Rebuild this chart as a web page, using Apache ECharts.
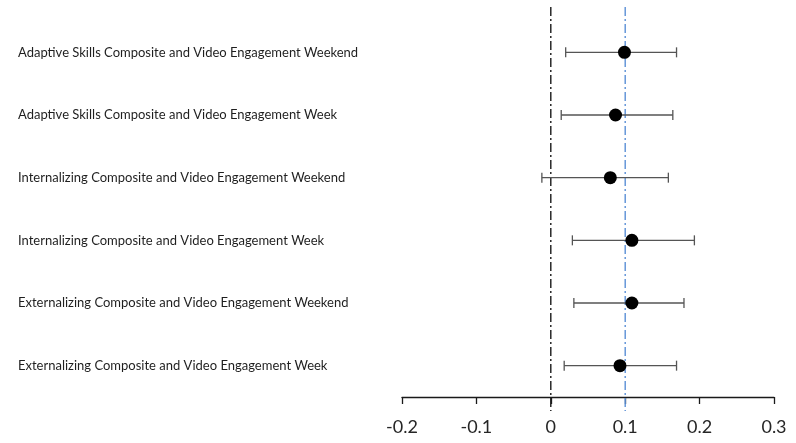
<!DOCTYPE html>
<html>
<head>
<meta charset="utf-8">
<script src="https://cdn.jsdelivr.net/npm/echarts@6/dist/echarts.min.js"></script>
<style>
  html, body { margin: 0; padding: 0; background: #fff; }
  #chart { width: 796px; height: 443px; }
</style>
</head>
<body>
<div id="chart"></div>
<script>
// Associations between composite scores and video engagement (estimate with 95% CI)
const categories = [
  'Adaptive Skills Composite and Video Engagement Weekend',
  'Adaptive Skills Composite and Video Engagement Week',
  'Internalizing Composite and Video Engagement Weekend',
  'Internalizing Composite and Video Engagement Week',
  'Externalizing Composite and Video Engagement Weekend',
  'Externalizing Composite and Video Engagement Week'
];
const estimates = [0.099, 0.087, 0.080, 0.109, 0.109, 0.093];
const lowerCI   = [0.020, 0.014, -0.012, 0.029, 0.031, 0.018];
const upperCI   = [0.169, 0.164, 0.158, 0.193, 0.179, 0.169];
const xTicks = [-0.2, -0.1, 0, 0.1, 0.2, 0.3];
const referenceLines = [0, 0.1];

const FONT = 'Lato';
const chart = echarts.init(document.getElementById('chart'), null, { renderer: 'canvas' });

const errorData = categories.map((c, i) => [i, lowerCI[i], upperCI[i]]);
const pointData = categories.map((c, i) => [estimates[i], i]);

chart.setOption({
  animation: false,
  backgroundColor: '#ffffff',
  grid: { left: 402, right: 22, top: 21, bottom: 46 },
  xAxis: {
    type: 'value',
    min: xTicks[0],
    max: xTicks[xTicks.length - 1],
    interval: 0.1,
    axisLine: { show: true, onZero: false, lineStyle: { color: '#1a1a1a', width: 1.3 } },
    axisTick: { show: true, inside: false, length: 7, lineStyle: { color: '#1a1a1a', width: 1.3 } },
    splitLine: { show: false },
    axisLabel: {
      fontFamily: FONT, fontSize: 18, color: '#262626', margin: 21,
      formatter: v => {
        const r = Math.round(v * 10) / 10;
        return r === 0 ? '0' : String(r);
      }
    }
  },
  yAxis: {
    type: 'category',
    data: categories,
    inverse: true,
    boundaryGap: true,
    axisLine: { show: false },
    axisTick: { show: false },
    splitLine: { show: false },
    axisLabel: {
      align: 'left',
      margin: 384,
      fontFamily: FONT,
      fontSize: 13,
      color: '#1f1f1f'
    }
  },
  series: [
    {
      // vertical dash-dot reference lines at 0 and 0.1
      type: 'custom',
      silent: true,
      data: referenceLines.map((v, i) => [v, i]),
      renderItem: function (params, api) {
        const cs = params.coordSys;
        const x = api.coord([api.value(0), 0])[0];
        const idx = api.value(1);
        return {
          type: 'line',
          shape: { x1: x, y1: cs.y - 14, x2: x, y2: cs.y + cs.height + 14 },
          style: {
            stroke: idx === 0 ? '#1a1a1a' : '#5b8fd6',
            lineWidth: 1.4,
            lineDash: [9, 3, 2, 3]
          }
        };
      },
      encode: { x: 0 },
      z: 1
    },
    {
      // confidence-interval whiskers
      type: 'custom',
      silent: true,
      data: errorData,
      renderItem: function (params, api) {
        const idx = api.value(0);
        const lo = api.coord([api.value(1), idx]);
        const hi = api.coord([api.value(2), idx]);
        const cap = 5;
        const style = { stroke: '#555555', lineWidth: 1.3 };
        return {
          type: 'group',
          children: [
            { type: 'line', shape: { x1: lo[0], y1: lo[1], x2: hi[0], y2: hi[1] }, style },
            { type: 'line', shape: { x1: lo[0], y1: lo[1] - cap, x2: lo[0], y2: lo[1] + cap }, style },
            { type: 'line', shape: { x1: hi[0], y1: hi[1] - cap, x2: hi[0], y2: hi[1] + cap }, style }
          ]
        };
      },
      encode: { x: [1, 2], y: 0 },
      z: 2
    },
    {
      type: 'scatter',
      data: pointData,
      symbol: 'circle',
      symbolSize: 13,
      itemStyle: { color: '#000000', opacity: 1 },
      z: 3
    }
  ]
});
</script>
</body>
</html>
